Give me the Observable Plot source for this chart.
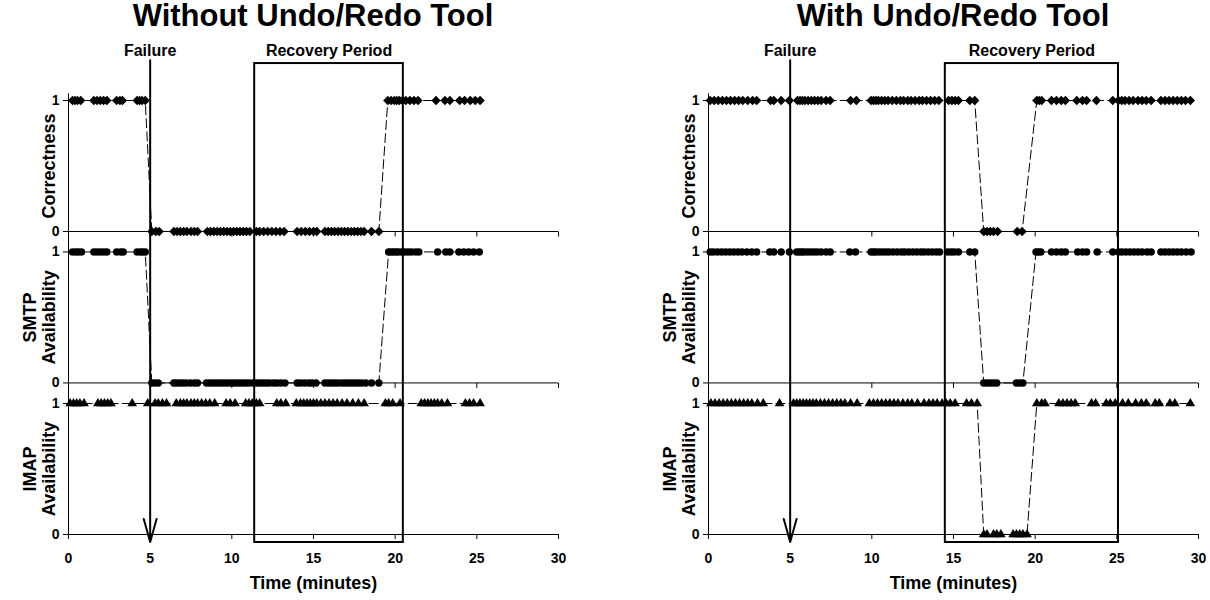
<!DOCTYPE html>
<html>
<head>
<meta charset="utf-8">
<script src="https://cdn.jsdelivr.net/npm/d3@7"></script>
<script src="https://cdn.jsdelivr.net/npm/@observablehq/plot@0.6"></script>
<style>
  html, body { margin: 0; padding: 0; background: #fff; }
  body { width: 1210px; height: 600px; overflow: hidden; font-family: "Liberation Sans", Arial, sans-serif; }
  .panel { position: absolute; top: 0; width: 605px; height: 600px; }
  .title { position: absolute; top: 0; height: 32px; line-height: 32px; font-size: 31px; font-weight: bold; text-align: center; color: #000; white-space: nowrap; }
  .panel svg { position: absolute; top: 32px; left: 0; }
</style>
</head>
<body>
<div id="left" class="panel" style="left:0"></div>
<div id="right" class="panel" style="left:605px"></div>
<script>
// ---------- data (minutes at which each sample was taken, split by value) ----------
const panelTitles = ["Without Undo/Redo Tool", "With Undo/Redo Tool"];
const rowLabels = ["Correctness", "SMTP\nAvailability", "IMAP\nAvailability"];
const xTicks = [0, 5, 10, 15, 20, 25, 30];
const xLabel = "Time (minutes)";
const failureLabel = "Failure";
const recoveryLabel = "Recovery Period";
const failureTime = [5, 5];
const recoveryStart = [11.4, 14.5];
const recoveryEnd = [20.5, 25.1];

// Without Undo/Redo
const woCorrUp = [0.25,0.4,0.55,0.75,1.55,1.75,1.95,2.15,2.35,2.95,3.15,3.3,4.2,4.35,4.5,4.7,19.55,19.75,19.95,20.1,20.25,20.45,20.65,20.9,21.15,21.4,22.5,23.05,23.35,23.95,24.25,24.6,24.9,25.2];
const woCorrDown = [5.1,5.35,5.55,6.45,6.65,6.85,7.05,7.25,7.5,7.7,7.9,8.5,8.7,8.9,9.1,9.3,9.5,9.7,9.9,10.1,10.3,10.5,10.7,10.9,11.1,11.5,11.7,11.95,12.2,12.45,12.7,12.95,13.2,14.0,14.25,14.5,14.75,15.0,15.2,15.7,15.9,16.1,16.3,16.5,16.7,16.9,17.1,17.3,17.5,17.7,17.9,18.1,18.55,19.0];
const woSmtpUp = [0.25,0.45,0.6,0.8,1.55,1.75,1.95,2.15,2.35,2.95,3.2,3.35,4.2,4.4,4.55,4.7,19.6,19.75,19.9,20.05,20.2,20.4,20.6,20.8,21.0,21.25,21.45,22.6,23.1,23.35,23.9,24.2,24.5,24.8,25.15];
const woSmtpDown = [5.1,5.3,5.5,6.45,6.6,6.8,7.0,7.2,7.45,7.7,7.9,8.45,8.65,8.85,9.05,9.25,9.45,9.65,9.85,10.05,10.25,10.45,10.65,10.85,11.05,11.3,11.5,11.7,11.9,12.1,12.3,12.55,12.75,13.0,13.25,14.0,14.2,14.45,14.7,14.9,15.15,15.7,15.9,16.1,16.3,16.5,16.75,16.95,17.15,17.35,17.55,17.75,17.95,18.2,18.55,19.0];
const woImapUp = [0.1,0.3,0.5,0.7,0.95,1.8,2.0,2.2,2.4,2.6,3.9,4.85,5.3,5.5,5.75,6.0,6.6,6.85,7.05,7.25,7.5,7.7,7.9,8.15,8.4,8.65,8.95,9.65,9.9,10.2,10.85,11.05,11.25,11.5,11.7,12.75,13.0,13.3,13.95,14.2,14.4,14.6,14.8,15.0,15.2,15.45,15.7,15.95,16.2,16.45,16.75,17.05,17.4,17.75,18.1,19.4,19.6,19.85,20.3,21.6,21.8,22.0,22.2,22.4,22.6,22.85,23.2,24.3,24.55,24.8,25.2];
const woImapDown = [];

// With Undo/Redo
const wCorrUp = [0.1,0.35,0.6,0.85,1.1,1.35,1.6,1.85,2.1,2.4,2.7,2.95,3.8,4.0,4.45,4.95,5.45,5.6,5.75,5.9,6.1,6.3,6.5,6.7,6.9,7.2,7.45,8.7,9.05,9.95,10.1,10.25,10.4,10.6,10.8,11.0,11.25,11.5,11.75,11.95,12.2,12.4,12.65,12.9,13.1,13.35,13.6,13.85,14.1,14.7,14.9,15.1,15.3,16.0,16.3,20.1,20.25,20.4,21.0,21.3,21.6,21.85,22.55,22.9,23.15,23.75,24.75,25.1,25.3,25.5,25.75,26.0,26.3,26.55,26.8,27.1,27.7,27.95,28.2,28.45,28.7,28.95,29.2,29.5];
const wCorrDown = [16.85,17.05,17.25,17.45,17.7,18.9,19.2];
const wSmtpUp = [0.1,0.3,0.55,0.8,1.05,1.3,1.55,1.8,2.05,2.35,2.65,2.95,3.75,4.0,4.45,4.95,5.4,5.55,5.7,5.85,6.05,6.25,6.45,6.65,6.9,7.2,7.45,8.65,9.0,9.95,10.1,10.25,10.45,10.65,10.85,11.05,11.3,11.55,11.8,12.0,12.25,12.5,12.75,13.0,13.2,13.45,13.7,13.95,14.15,14.65,14.85,15.05,15.3,16.0,16.3,20.05,20.2,20.35,21.0,21.3,21.6,21.85,22.6,22.9,23.15,23.8,24.75,25.1,25.3,25.55,25.8,26.05,26.3,26.55,26.85,27.1,27.7,27.95,28.2,28.45,28.7,28.95,29.25,29.55];
const wSmtpDown = [16.85,17.05,17.25,17.45,17.65,18.85,19.05,19.25];
const wImapUp = [0.15,0.4,0.65,0.9,1.15,1.4,1.65,1.9,2.15,2.4,2.65,3.0,3.35,4.35,5.2,5.4,5.6,5.8,6.0,6.2,6.4,6.6,6.85,7.1,7.35,7.6,7.85,8.1,8.35,8.7,9.1,9.85,10.1,10.35,10.6,10.85,11.1,11.35,11.6,11.9,12.2,12.45,12.8,13.2,13.5,13.75,14.0,14.3,14.55,14.8,15.1,15.8,16.1,16.45,20.1,20.4,20.6,21.45,21.7,21.95,22.2,22.45,23.45,23.7,24.35,24.6,24.9,25.35,25.7,26.15,26.5,26.8,27.35,27.6,28.25,28.55,29.5];
const wImapDown = [16.85,17.05,17.45,17.65,17.9,18.65,18.85,19.05,19.25,19.5];

// ---------- layout ----------
const rowOffsets = [2.313, 1.157, 0];          // vertical stacking of the three strips (y units)
const rowSymbols = ["diamond2", "circle", "triangle"];
const rowSymbolR = [4.2, 3.7, 3.6];
const Y_TOP = 3.313;
const BOX_TOP = 3.595, BOX_BOTTOM = -0.061;
const ARROW_TOP = 3.62, ARROW_BOTTOM = -0.058;
const LABEL_Y = 3.69;
const FONT = "'Liberation Sans', Arial, Helvetica, sans-serif";

function buildRows(list) {
  return list.map(([up, down], r) => {
    const pts = up.map(t => ({t, v: 1})).concat(down.map(t => ({t, v: 0})));
    pts.sort((a, b) => a.t - b.t);
    return pts.map(p => ({...p, row: r, y: p.v + rowOffsets[r]}));
  });
}

const panels = [
  {id: "left", ml: 68, mr: 47, rows: buildRows([[woCorrUp, woCorrDown], [woSmtpUp, woSmtpDown], [woImapUp, woImapDown]])},
  {id: "right", ml: 103, mr: 12, rows: buildRows([[wCorrUp, wCorrDown], [wSmtpUp, wSmtpDown], [wImapUp, wImapDown]])}
];

const yTickPos = [], yTickLab = new Map();
rowOffsets.forEach(o => { yTickPos.push(o, o + 1); yTickLab.set(o, "0"); yTickLab.set(o + 1, "1"); });

panels.forEach((p, k) => {
  const host = document.getElementById(p.id);
  const title = document.createElement("div");
  title.className = "title";
  title.style.left = p.ml + "px";
  title.style.width = (605 - p.ml - p.mr) + "px";
  title.textContent = panelTitles[k];
  host.appendChild(title);

  const rowInfo = rowLabels.map((label, r) => ({label, offset: rowOffsets[r]}));
  const upperTicks = [];
  rowOffsets.slice(0, 2).forEach(o => xTicks.forEach(x => upperTicks.push({x, o})));
  const failure = [{t: failureTime[k]}];
  const recovery = [{a: recoveryStart[k], b: recoveryEnd[k], m: (recoveryStart[k] + recoveryEnd[k]) / 2}];

  const marks = [
    Plot.ruleY(rowInfo, {y: "offset", x1: 0, x2: 30, stroke: "#000", strokeWidth: 1}),
    Plot.ruleX([0], {y1: 0, y2: Y_TOP + 0.05, stroke: "#000", strokeWidth: 1}),
    Plot.link(upperTicks, {x1: "x", x2: "x", y1: "o", y2: d => d.o - 0.038, stroke: "#000", strokeWidth: 1}),
    Plot.axisX({ticks: xTicks, tickSize: 5, tickPadding: 14, tickFormat: d => String(d), label: null, fontSize: 14, fontWeight: "bold"}),
    Plot.axisY({ticks: yTickPos, tickSize: 5, tickPadding: 4, tickFormat: d => yTickLab.get(d), label: null, fontSize: 14, fontWeight: "bold"})
  ];
  p.rows.forEach((data, r) => {
    marks.push(Plot.line(data, {x: "t", y: "y", stroke: "#000", strokeWidth: 1, strokeDasharray: "9,4"}));
    marks.push(Plot.dot(data, {x: "t", y: "y", symbol: rowSymbols[r], r: rowSymbolR[r], fill: "#000", stroke: "none"}));
  });
  marks.push(
    Plot.rect(recovery, {x1: "a", x2: "b", y1: BOX_BOTTOM, y2: BOX_TOP, fill: "none", stroke: "#000", strokeWidth: 2}),
    Plot.arrow(failure, {x1: "t", x2: "t", y1: ARROW_TOP, y2: ARROW_BOTTOM, stroke: "#000", strokeWidth: 2, headAngle: 31, headLength: 18}),
    Plot.text(failure, {x: "t", y: LABEL_Y, text: () => failureLabel, fontSize: 16, fontWeight: "bold", fill: "#000"}),
    Plot.text(recovery, {x: "m", y: LABEL_Y, text: () => recoveryLabel, fontSize: 16, fontWeight: "bold", fill: "#000"}),
    Plot.text(rowInfo, {y: d => d.offset + 0.5, frameAnchor: "left", dx: -14, rotate: -90, text: "label", textAnchor: "middle", lineAnchor: "bottom", lineHeight: 1.05, fontSize: 18, fontWeight: "bold", fill: "#000"}),
    Plot.text([xLabel], {frameAnchor: "bottom", dy: 54, text: d => d, fontSize: 18, fontWeight: "bold", fill: "#000"})
  );

  const chart = Plot.plot({
    width: 605,
    height: 568,
    marginLeft: p.ml,
    marginRight: p.mr,
    marginTop: 68,
    marginBottom: 66,
    x: {domain: [0, 30]},
    y: {domain: [0, Y_TOP]},
    style: {fontFamily: FONT, fontSize: "14px", fontWeight: "bold", color: "#000", background: "transparent", overflow: "visible"},
    marks
  });
  host.appendChild(chart);
});
</script>
</body>
</html>
